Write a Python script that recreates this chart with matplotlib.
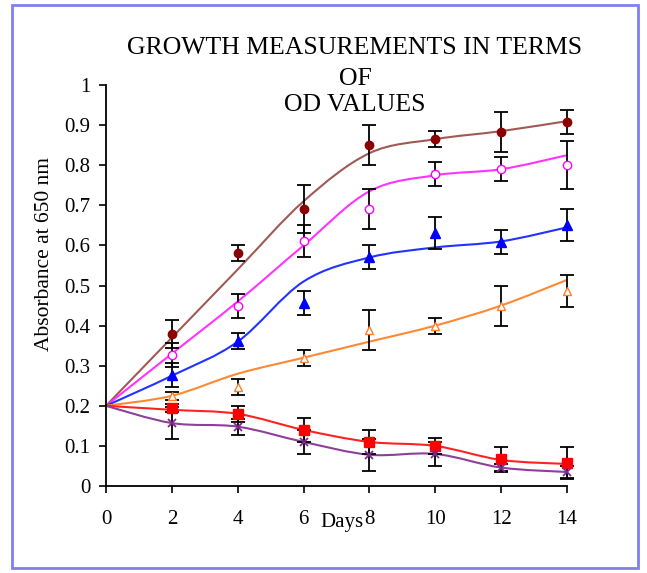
import matplotlib
matplotlib.use("Agg")
from matplotlib import pyplot as plt
from matplotlib.path import Path
from matplotlib.patches import PathPatch, Rectangle

plt.rcParams['font.family'] = ['Liberation Serif', 'DejaVu Serif']

days = [0, 2, 4, 6, 8, 10, 12, 14]

# fitted (smoothed) curves
fit_brown = [0.2, 0.37, 0.54, 0.71, 0.83, 0.865, 0.885, 0.91]
fit_pink = [0.2, 0.33, 0.46, 0.60, 0.735, 0.775, 0.79, 0.825]
fit_blue = [0.2, 0.275, 0.36, 0.51, 0.57, 0.595, 0.61, 0.645]
fit_orange = [0.2, 0.225, 0.28, 0.32, 0.36, 0.40, 0.45, 0.514]
fit_red = [0.2, 0.19, 0.18, 0.14, 0.11, 0.10, 0.065, 0.055]
fit_purple = [0.2, 0.157, 0.148, 0.11, 0.078, 0.08, 0.046, 0.035]

# measured points (days 2..14) and errors
pt_days = [2, 4, 6, 8, 10, 12, 14]
pt_brown = [0.38, 0.58, 0.69, 0.85, 0.865, 0.883, 0.908]
err_brown = [0.035, 0.02, 0.06, 0.05, 0.02, 0.05, 0.03]
pt_pink = [0.327, 0.45, 0.61, 0.69, 0.778, 0.79, 0.80]
err_pink = [0.03, 0.03, 0.04, 0.05, 0.03, 0.03, 0.06]
pt_blue = [0.277, 0.362, 0.457, 0.571, 0.63, 0.609, 0.65]
err_blue = [0.03, 0.02, 0.03, 0.03, 0.04, 0.03, 0.04]
pt_orange = [0.224, 0.247, 0.32, 0.389, 0.40, 0.45, 0.486]
err_orange = [0.01, 0.02, 0.02, 0.05, 0.02, 0.05, 0.04]
pt_red = [0.195, 0.18, 0.14, 0.11, 0.10, 0.067, 0.057]
err_red = [0.01, 0.02, 0.03, 0.03, 0.02, 0.03, 0.04]
pt_purple = [0.157, 0.148, 0.11, 0.078, 0.08, 0.046, 0.035]
err_purple = [0.04, 0.02, 0.03, 0.04, 0.03, 0.01, 0.015]


def smooth_path(xs, ys):
	# catmull-rom style bezier, like excel smoothed lines
	verts = [(xs[0], ys[0])]
	codes = [Path.MOVETO]
	n = len(xs)
	for i in range(n - 1):
		x0, y0 = (xs[i - 1], ys[i - 1]) if i > 0 else (xs[i], ys[i])
		x1, y1 = xs[i], ys[i]
		x2, y2 = xs[i + 1], ys[i + 1]
		x3, y3 = (xs[i + 2], ys[i + 2]) if i + 2 < n else (x2, y2)
		c1 = (x1 + (x2 - x0) / 6.0, y1 + (y2 - y0) / 6.0)
		c2 = (x2 - (x3 - x1) / 6.0, y2 - (y3 - y1) / 6.0)
		verts += [c1, c2, (x2, y2)]
		codes += [Path.CURVE4] * 3
	return Path(verts, codes)


fig = plt.figure(figsize=(6.47, 5.73), dpi=100)
ax = fig.add_axes([0.1638, 0.1518, 0.7125, 0.6998])

series = [
	(fit_brown, pt_brown, err_brown, "#a05a55", dict(marker="o", color="#8b0000", ms=6)),
	(fit_pink, pt_pink, err_pink, "#ff33ff", dict(marker="o", color="#ff00ff", ms=6, mfc="white")),
	(fit_blue, pt_blue, err_blue, "#2233ff", dict(marker="^", color="#0000ff", ms=7)),
	(fit_orange, pt_orange, err_orange, "#ff8833", dict(marker="^", color="#ff7f27", ms=6, mfc="white")),
	(fit_red, pt_red, err_red, "#ff2222", dict(marker="s", color="#ff0000", ms=7)),
	(fit_purple, pt_purple, err_purple, "#8e3f9a", dict(marker="x", color="#7f2a8f", ms=6, mew=1.3)),
]

for fit, pts, err, lc, mk in series:
	ax.add_patch(PathPatch(smooth_path(days, fit), fc="none", ec=lc, lw=1.5, zorder=2))
	ax.errorbar(pt_days, pts, yerr=err, fmt="none", ecolor="black", elinewidth=1.3,
		capsize=5, capthick=1.3, zorder=3, clip_on=False)
	ax.plot(pt_days, pts, ls="none", zorder=4, clip_on=False, **mk)

ax.set_xlim(0, 14)
ax.set_ylim(0, 1)
ax.set_xticks(days)
ax.set_yticks([i / 10 for i in range(11)])
ax.set_yticklabels(["0", "0.1", "0.2", "0.3", "0.4", "0.5", "0.6", "0.7", "0.8", "0.9", "1"])
ax.tick_params(labelsize=15, direction="out", length=5, width=1.2, pad=6)
ax.tick_params(axis="x", pad=12)
ax.spines["top"].set_visible(False)
ax.spines["right"].set_visible(False)
ax.spines["left"].set_linewidth(1.3)
ax.spines["bottom"].set_linewidth(1.3)

fig.text(342 / 647, 1 - 522 / 573, "Days", fontsize=15, ha="center", va="center")
fig.text(45 / 647, 1 - 254 / 573, "Absorbance at 650 nm", fontsize=15.5, rotation=90,
	ha="center", va="center")
fig.text(355 / 647, 1 - 48 / 573, "GROWTH MEASUREMENTS IN TERMS", fontsize=18.5, ha="center", va="center")
fig.text(355 / 647, 1 - 79 / 573, "OF", fontsize=18.5, ha="center", va="center")
fig.text(355 / 647, 1 - 105 / 573, "OD VALUES", fontsize=18.5, ha="center", va="center")

fig.patches.append(Rectangle((12 / 647, 5 / 573), 626 / 647, 563 / 573, transform=fig.transFigure,
	fill=False, ec="#8080f0", lw=2))

fig.savefig("out.png", dpi=100)
